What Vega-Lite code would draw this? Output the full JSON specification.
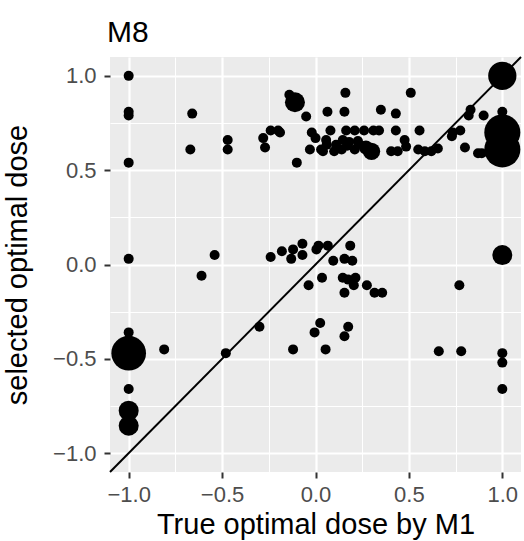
{
  "$schema": "https://vega.github.io/schema/vega-lite/v6.json",
  "width": 411,
  "height": 415,
  "autosize": {"type": "none"},
  "padding": {"left": 110, "top": 57, "right": 3, "bottom": 69},
  "background": "white",
  "title": {"text": "M8", "anchor": "start", "frame": "group", "font": "Liberation Sans", "fontSize": 30, "fontWeight": "normal", "color": "black", "baseline": "bottom", "offset": 7, "dx": -3, "dy": 32},
  "config": {
    "view": {"fill": "#EBEBEB", "stroke": null},
    "axis": {
      "domain": false,
      "grid": true,
      "gridColor": "white",
      "gridWidth": {"condition": {"test": "abs(datum.value*2 - round(datum.value*2)) > 0.01", "value": 1}, "value": 2.2},
      "tickOpacity": {"condition": {"test": "abs(datum.value*2 - round(datum.value*2)) > 0.01", "value": 0}, "value": 1},
      "tickColor": "#333333",
      "tickWidth": 2,
      "tickSize": 6,
      "labelColor": "#4D4D4D",
      "labelFont": "Liberation Sans",
      "labelFontSize": 22,
      "labelOverlap": false,
      "labelFlush": false,
      "labelBound": false,
      "titleFont": "Liberation Sans",
      "titleFontSize": 29,
      "titleFontWeight": "normal",
      "titleColor": "black"
    }
  },
  "layer": [
    {
      "data": {"values": [
        {"x": -1, "y": 1.0, "n": 1},
        {"x": -1, "y": 0.81, "n": 1},
        {"x": -1, "y": 0.79, "n": 1},
        {"x": -1, "y": 0.54, "n": 1},
        {"x": -1, "y": 0.03, "n": 1},
        {"x": -1, "y": -0.36, "n": 1},
        {"x": -1, "y": -0.47, "n": 12},
        {"x": -1, "y": -0.66, "n": 1},
        {"x": -1, "y": -0.775, "n": 4},
        {"x": -1, "y": -0.855, "n": 4},
        {"x": -0.81, "y": -0.45, "n": 1},
        {"x": -0.66, "y": 0.80, "n": 1},
        {"x": -0.67, "y": 0.61, "n": 1},
        {"x": -0.47, "y": 0.66, "n": 1},
        {"x": -0.47, "y": 0.61, "n": 1},
        {"x": -0.54, "y": 0.05, "n": 1},
        {"x": -0.61, "y": -0.06, "n": 1},
        {"x": -0.30, "y": -0.33, "n": 1},
        {"x": -0.12, "y": -0.45, "n": 1},
        {"x": -0.48, "y": -0.47, "n": 1},
        {"x": -0.14, "y": 0.90, "n": 1},
        {"x": -0.11, "y": 0.86, "n": 4},
        {"x": -0.05, "y": 0.785, "n": 1},
        {"x": -0.24, "y": 0.71, "n": 1},
        {"x": -0.20, "y": 0.71, "n": 1},
        {"x": -0.19, "y": 0.70, "n": 1},
        {"x": -0.28, "y": 0.67, "n": 1},
        {"x": -0.27, "y": 0.62, "n": 1},
        {"x": -0.10, "y": 0.54, "n": 1},
        {"x": -0.02, "y": 0.70, "n": 1},
        {"x": 0.00, "y": 0.67, "n": 1},
        {"x": -0.03, "y": 0.61, "n": 1},
        {"x": 0.03, "y": 0.61, "n": 1},
        {"x": 0.06, "y": 0.635, "n": 1},
        {"x": 0.08, "y": 0.71, "n": 1},
        {"x": 0.16, "y": 0.91, "n": 1},
        {"x": 0.51, "y": 0.91, "n": 1},
        {"x": 0.064, "y": 0.81, "n": 1},
        {"x": 0.155, "y": 0.81, "n": 1},
        {"x": 0.35, "y": 0.82, "n": 1},
        {"x": 0.43, "y": 0.80, "n": 1},
        {"x": 0.164, "y": 0.71, "n": 1},
        {"x": 0.21, "y": 0.71, "n": 1},
        {"x": 0.26, "y": 0.71, "n": 1},
        {"x": 0.31, "y": 0.71, "n": 1},
        {"x": 0.34, "y": 0.71, "n": 1},
        {"x": 0.43, "y": 0.71, "n": 1},
        {"x": 0.557, "y": 0.71, "n": 1},
        {"x": 0.057, "y": 0.66, "n": 1},
        {"x": 0.146, "y": 0.66, "n": 1},
        {"x": 0.18, "y": 0.65, "n": 1},
        {"x": 0.227, "y": 0.655, "n": 1},
        {"x": 0.477, "y": 0.66, "n": 1},
        {"x": 0.04, "y": 0.60, "n": 1},
        {"x": 0.10, "y": 0.60, "n": 1},
        {"x": 0.11, "y": 0.635, "n": 1},
        {"x": 0.14, "y": 0.61, "n": 1},
        {"x": 0.17, "y": 0.63, "n": 1},
        {"x": 0.21, "y": 0.61, "n": 1},
        {"x": 0.23, "y": 0.64, "n": 1},
        {"x": 0.27, "y": 0.62, "n": 2},
        {"x": 0.30, "y": 0.60, "n": 3},
        {"x": 0.405, "y": 0.60, "n": 1},
        {"x": 0.44, "y": 0.60, "n": 1},
        {"x": 0.485, "y": 0.625, "n": 1},
        {"x": 0.55, "y": 0.61, "n": 1},
        {"x": 0.585, "y": 0.60, "n": 1},
        {"x": 0.62, "y": 0.60, "n": 1},
        {"x": 0.655, "y": 0.615, "n": 1},
        {"x": 0.80, "y": 0.62, "n": 1},
        {"x": 0.87, "y": 0.59, "n": 1},
        {"x": 0.89, "y": 0.59, "n": 1},
        {"x": 0.83, "y": 0.82, "n": 1},
        {"x": 0.82, "y": 0.79, "n": 1},
        {"x": 0.90, "y": 0.79, "n": 1},
        {"x": 0.735, "y": 0.70, "n": 1},
        {"x": 0.775, "y": 0.71, "n": 1},
        {"x": 0.73, "y": 0.68, "n": 1},
        {"x": 1, "y": 1, "n": 8},
        {"x": 1, "y": 0.81, "n": 1},
        {"x": 1, "y": 0.70, "n": 13},
        {"x": 1, "y": 0.61, "n": 13},
        {"x": -0.24, "y": 0.04, "n": 1},
        {"x": -0.18, "y": 0.07, "n": 1},
        {"x": -0.13, "y": 0.03, "n": 1},
        {"x": -0.12, "y": 0.08, "n": 1},
        {"x": -0.07, "y": 0.11, "n": 1},
        {"x": -0.07, "y": 0.05, "n": 1},
        {"x": 0.005, "y": 0.08, "n": 1},
        {"x": 0.016, "y": 0.10, "n": 1},
        {"x": 0.066, "y": 0.10, "n": 1},
        {"x": 0.095, "y": 0.02, "n": 1},
        {"x": 0.155, "y": 0.03, "n": 1},
        {"x": 0.186, "y": 0.10, "n": 1},
        {"x": 0.197, "y": 0.02, "n": 1},
        {"x": 0.035, "y": -0.07, "n": 1},
        {"x": -0.037, "y": -0.11, "n": 1},
        {"x": 0.146, "y": -0.07, "n": 1},
        {"x": 0.175, "y": -0.08, "n": 1},
        {"x": 0.214, "y": -0.07, "n": 1},
        {"x": 0.205, "y": -0.11, "n": 1},
        {"x": 0.155, "y": -0.15, "n": 1},
        {"x": 0.275, "y": -0.11, "n": 1},
        {"x": 0.316, "y": -0.15, "n": 1},
        {"x": 0.357, "y": -0.15, "n": 1},
        {"x": 0.77, "y": -0.11, "n": 1},
        {"x": 0.025, "y": -0.31, "n": 1},
        {"x": -0.005, "y": -0.36, "n": 1},
        {"x": 0.175, "y": -0.33, "n": 1},
        {"x": 0.155, "y": -0.38, "n": 1},
        {"x": 0.054, "y": -0.45, "n": 1},
        {"x": 0.66, "y": -0.46, "n": 1},
        {"x": 0.78, "y": -0.46, "n": 1},
        {"x": 1, "y": 0.05, "n": 4},
        {"x": 1, "y": -0.47, "n": 1},
        {"x": 1, "y": -0.52, "n": 1},
        {"x": 1, "y": -0.66, "n": 1}
      ]},
      "mark": {"type": "circle", "color": "black", "opacity": 1},
      "encoding": {
        "x": {"field": "x", "type": "quantitative", "scale": {"domain": [-1.1, 1.1], "nice": false, "zero": false},
              "axis": {"title": "True optimal dose by M1", "labelPadding": 6, "titlePadding": 5, "labelOverlap": false,
                       "values": [-1, -0.75, -0.5, -0.25, 0, 0.25, 0.5, 0.75, 1],
                       "labelExpr": "abs(datum.value*2 - round(datum.value*2)) > 0.01 ? '' : format(datum.value, '.1f')"}},
        "y": {"field": "y", "type": "quantitative", "scale": {"domain": [-1.1, 1.1], "nice": false, "zero": false},
              "axis": {"title": "selected optimal dose", "labelPadding": 8, "titlePadding": 20, "labelOverlap": false,
                       "values": [-1, -0.75, -0.5, -0.25, 0, 0.25, 0.5, 0.75, 1],
                       "labelExpr": "abs(datum.value*2 - round(datum.value*2)) > 0.01 ? '' : format(datum.value, '.1f')"}},
        "size": {"field": "n", "type": "quantitative", "scale": {"domain": [0, 14], "range": [0, 1400]}, "legend": null}
      }
    },
    {
      "data": {"values": [{"x": -1.1, "y": -1.1}, {"x": 1.1, "y": 1.1}]},
      "mark": {"type": "line", "color": "black", "strokeWidth": 2},
      "encoding": {
        "x": {"field": "x", "type": "quantitative"},
        "y": {"field": "y", "type": "quantitative"}
      }
    }
  ]
}
